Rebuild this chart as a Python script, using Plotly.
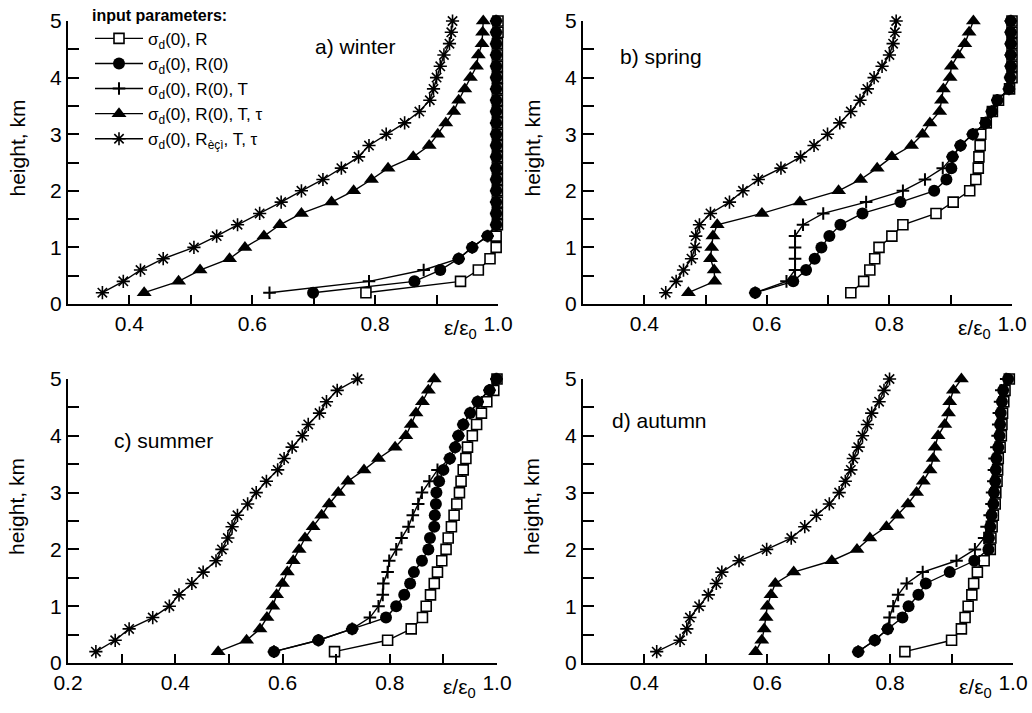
import plotly.graph_objects as go

heights = [0.2, 0.4, 0.6, 0.8, 1.0, 1.2, 1.4, 1.6, 1.8, 2.0, 2.2, 2.4, 2.6,
           2.8, 3.0, 3.2, 3.4, 3.6, 3.8, 4.0, 4.2, 4.4, 4.6, 4.8, 5.0]

series_names = ["σ<sub>d</sub>(0), R", "σ<sub>d</sub>(0), R(0)", "σ<sub>d</sub>(0), R(0), T",
                "σ<sub>d</sub>(0), R(0), T, τ", "σ<sub>d</sub>(0), R<sub>èçì</sub>, T, τ"]

# a) winter
winter_sq = [0.785, 0.939, 0.968, 0.987, 0.997, 0.997, 0.999, 0.999, 0.999, 0.999, 0.999, 0.999, 0.999,
             0.999, 0.999, 0.999, 0.999, 0.999, 0.999, 0.999, 0.999, 0.999, 0.999, 1.0, 1.0]
winter_ci = [0.699, 0.864, 0.906, 0.936, 0.958, 0.983, 0.997, 0.997, 0.997, 0.997, 0.997, 0.997, 0.997,
             0.997, 0.997, 0.997, 0.997, 0.997, 0.997, 0.997, 0.997, 0.997, 0.997, 0.997, 0.997]
winter_cr = [0.628, 0.790, 0.879, 0.936, 0.958, 0.983, 0.997, 0.997, 0.997, 0.997, 0.997, 0.997, 0.997,
             0.997, 0.997, 0.997, 0.997, 0.997, 0.997, 0.997, 0.997, 0.997, 0.997, 0.997, 0.997]
winter_tr = [0.424, 0.480, 0.515, 0.563, 0.588, 0.619, 0.645, 0.680, 0.729, 0.765, 0.794, 0.821, 0.862,
             0.888, 0.902, 0.915, 0.928, 0.936, 0.946, 0.955, 0.965, 0.968, 0.974, 0.975, 0.976]
winter_as = [0.356, 0.390, 0.418, 0.455, 0.505, 0.542, 0.576, 0.612, 0.647, 0.680, 0.715, 0.745, 0.773,
             0.790, 0.818, 0.848, 0.872, 0.889, 0.895, 0.900, 0.906, 0.912, 0.921, 0.924, 0.926]

# b) spring
spring_sq = [0.737, 0.758, 0.768, 0.776, 0.783, 0.804, 0.822, 0.876, 0.904, 0.931, 0.941, 0.945, 0.946,
             0.948, 0.949, 0.958, 0.968, 0.978, 0.996, 1.0, 1.0, 1.0, 1.0, 1.0, 1.0]
spring_ci = [0.581, 0.643, 0.664, 0.678, 0.689, 0.702, 0.720, 0.756, 0.818, 0.873, 0.893, 0.901, 0.903,
             0.916, 0.936, 0.957, 0.967, 0.976, 0.995, 0.997, 0.998, 0.998, 0.998, 0.998, 0.998]
spring_cr = [0.581, 0.632, 0.646, 0.646, 0.646, 0.646, 0.659, 0.692, 0.762, 0.822, 0.858, 0.887, 0.903,
             0.916, 0.936, 0.957, 0.967, 0.976, 0.995, 0.997, 0.998, 0.998, 0.998, 0.998, 0.998]
spring_tr = [0.472, 0.515, 0.514, 0.508, 0.510, 0.512, 0.519, 0.592, 0.654, 0.717, 0.753, 0.780, 0.804,
             0.836, 0.854, 0.866, 0.882, 0.885, 0.888, 0.899, 0.901, 0.912, 0.923, 0.930, 0.937]
spring_as = [0.435, 0.452, 0.464, 0.477, 0.483, 0.484, 0.490, 0.508, 0.539, 0.561, 0.586, 0.623, 0.655,
             0.677, 0.699, 0.719, 0.737, 0.752, 0.764, 0.775, 0.788, 0.800, 0.806, 0.809, 0.811]

# c) summer
summer_sq = [0.697, 0.796, 0.840, 0.861, 0.868, 0.876, 0.883, 0.889, 0.897, 0.905, 0.909, 0.915, 0.920,
             0.925, 0.930, 0.933, 0.937, 0.942, 0.945, 0.954, 0.962, 0.971, 0.981, 0.994, 1.0]
summer_ci = [0.584, 0.667, 0.730, 0.793, 0.812, 0.827, 0.838, 0.845, 0.860, 0.872, 0.875, 0.883, 0.884,
             0.886, 0.887, 0.892, 0.900, 0.912, 0.922, 0.928, 0.937, 0.950, 0.964, 0.986, 0.999]
summer_cr = [0.584, 0.667, 0.730, 0.763, 0.779, 0.787, 0.788, 0.796, 0.799, 0.812, 0.822, 0.835, 0.843,
             0.853, 0.860, 0.874, 0.889, 0.912, 0.922, 0.928, 0.937, 0.950, 0.964, 0.986, 0.999]
summer_tr = [0.480, 0.533, 0.558, 0.571, 0.582, 0.589, 0.600, 0.609, 0.620, 0.631, 0.642, 0.657, 0.673,
             0.687, 0.704, 0.722, 0.752, 0.779, 0.810, 0.830, 0.840, 0.849, 0.861, 0.872, 0.883]
summer_as = [0.252, 0.288, 0.314, 0.358, 0.389, 0.407, 0.431, 0.452, 0.476, 0.487, 0.498, 0.506, 0.516,
             0.535, 0.551, 0.570, 0.591, 0.603, 0.618, 0.637, 0.648, 0.669, 0.682, 0.702, 0.740]

# d) autumn
autumn_sq = [0.824, 0.900, 0.916, 0.922, 0.927, 0.933, 0.936, 0.942, 0.953, 0.963, 0.964, 0.966, 0.968,
             0.971, 0.972, 0.974, 0.975, 0.976, 0.979, 0.981, 0.982, 0.983, 0.985, 0.987, 0.994]
autumn_ci = [0.748, 0.775, 0.796, 0.820, 0.830, 0.846, 0.858, 0.897, 0.937, 0.960, 0.961, 0.963, 0.965,
             0.968, 0.969, 0.971, 0.972, 0.973, 0.976, 0.978, 0.979, 0.980, 0.982, 0.984, 0.992]
autumn_cr = [0.748, 0.775, 0.796, 0.799, 0.805, 0.813, 0.827, 0.853, 0.908, 0.938, 0.953, 0.957, 0.962,
             0.965, 0.966, 0.968, 0.969, 0.970, 0.973, 0.975, 0.976, 0.977, 0.979, 0.981, 0.989]
autumn_tr = [0.581, 0.591, 0.595, 0.598, 0.600, 0.606, 0.613, 0.643, 0.705, 0.746, 0.767, 0.794, 0.812,
             0.829, 0.843, 0.854, 0.865, 0.870, 0.873, 0.878, 0.889, 0.895, 0.897, 0.903, 0.916]
autumn_as = [0.420, 0.458, 0.469, 0.474, 0.489, 0.504, 0.517, 0.526, 0.554, 0.599, 0.639, 0.661, 0.680,
             0.701, 0.717, 0.727, 0.736, 0.740, 0.748, 0.755, 0.763, 0.770, 0.782, 0.790, 0.799]

panel_labels = ["a) winter", "b) spring", "c) summer", "d) autumn"]
x_ticks_03 = [0.4, 0.5, 0.6, 0.7, 0.8, 0.9, 1.0]
x_text_03 = ["0.4", "", "0.6", "", "0.8", "", "1.0"]
x_ticks_02 = [0.2, 0.3, 0.4, 0.5, 0.6, 0.7, 0.8, 0.9, 1.0]
x_text_02 = ["0.2", "", "0.4", "", "0.6", "", "0.8", "", "1.0"]
y_ticks = [0, 0.5, 1, 1.5, 2, 2.5, 3, 3.5, 4, 4.5, 5]
y_text = ["0", "", "1", "", "2", "", "3", "", "4", "", "5"]

FONT = "Liberation Sans, Arial, sans-serif"
W, H = 1032, 713

panels = [
    dict(data=[winter_sq, winter_ci, winter_cr, winter_tr, winter_as], xr=[0.3, 1.0],
         px=(68, 498), py=(21, 304), lab=(313, 47)),
    dict(data=[spring_sq, spring_ci, spring_cr, spring_tr, spring_as], xr=[0.3, 1.0],
         px=(583, 1012), py=(21, 304), lab=(618, 56)),
    dict(data=[summer_sq, summer_ci, summer_cr, summer_tr, summer_as], xr=[0.2, 1.0],
         px=(68, 497), py=(379, 663), lab=(112, 440)),
    dict(data=[autumn_sq, autumn_ci, autumn_cr, autumn_tr, autumn_as], xr=[0.3, 1.0],
         px=(583, 1013), py=(379, 663), lab=(610, 420)),
]

marker_styles = [
    dict(symbol="square", size=10, color="white", line=dict(color="black", width=1.6)),
    dict(symbol="circle", size=12, color="black", line=dict(width=0)),
    dict(symbol="cross-thin-open", size=9, color="black", line=dict(color="black", width=2)),
    dict(symbol="triangle-up", size=13, color="black", line=dict(width=0)),
    dict(symbol="asterisk-open", size=11, color="black", line=dict(color="black", width=1.6)),
]

fig = go.Figure()
layout = {}
annotations = []
for i, p in enumerate(panels):
    sfx = "" if i == 0 else str(i + 1)
    for k, vals in enumerate(p["data"]):
        fig.add_trace(go.Scatter(
            x=vals, y=heights, mode="lines+markers", name=series_names[k],
            xaxis="x" + sfx, yaxis="y" + sfx, showlegend=(i == 0),
            line=dict(color="black", width=1.4), marker=marker_styles[k],
            cliponaxis=False,
        ))
    x0, x1 = p["px"]
    y0, y1 = p["py"]
    if p["xr"][0] == 0.2:
        tv, tt = x_ticks_02, x_text_02
    else:
        tv, tt = x_ticks_03, x_text_03
    layout["xaxis" + sfx] = dict(
        domain=[x0 / W, x1 / W], range=p["xr"], anchor="y" + sfx, automargin=False,
        showgrid=False, zeroline=False, showline=True, linecolor="black", linewidth=2,
        ticks="inside", ticklen=9, tickwidth=2, tickcolor="black",
        tickmode="array", tickvals=tv, ticktext=tt,
        tickfont=dict(family=FONT, size=21, color="black"),
    )
    layout["yaxis" + sfx] = dict(
        domain=[1 - y1 / H, 1 - y0 / H], range=[0, 5], anchor="x" + sfx, automargin=False,
        showgrid=False, zeroline=False, showline=True, linecolor="black", linewidth=2,
        ticks="inside", ticklen=11, tickwidth=2, tickcolor="black",
        tickmode="array", tickvals=y_ticks, ticktext=y_text,
        tickfont=dict(family=FONT, size=21, color="black"),
    )
    lx, ly = p["lab"]
    annotations.append(dict(text=panel_labels[i], xref="paper", yref="paper",
                            x=lx / W, y=1 - ly / H, xanchor="left", yanchor="middle",
                            showarrow=False, font=dict(family=FONT, size=21, color="black")))
    # y-axis title
    annotations.append(dict(text="height, km", xref="paper", yref="paper",
                            x=(x0 - 51) / W, y=1 - ((y0 + y1) / 2 - 14) / H, textangle=-90,
                            xanchor="center", yanchor="middle", showarrow=False,
                            font=dict(family=FONT, size=21, color="black")))
    # x-axis quantity label next to 1.0
    annotations.append(dict(text="ε/ε<sub>0</sub>", xref="paper", yref="paper",
                            x=(x1 - 19) / W, y=1 - (y1 + 10) / H, xanchor="right", yanchor="top",
                            showarrow=False, font=dict(family=FONT, size=21, color="black")))

fig.update_layout(
    width=W, height=H, margin=dict(l=0, r=0, t=0, b=0, autoexpand=False),
    paper_bgcolor="white", plot_bgcolor="white",
    font=dict(family=FONT, color="black"),
    showlegend=True,
    legend=dict(x=90 / W, y=1.0, xanchor="left", yanchor="top", bgcolor="rgba(0,0,0,0)",
                title=dict(text="<b>input parameters:</b>", font=dict(family=FONT, size=16)),
                font=dict(family=FONT, size=17, color="black"), tracegroupgap=0,
                itemwidth=48),
    annotations=annotations,
    **layout,
)

fig.write_html("out.html", config={"displayModeBar": False},
               post_script="document.body.style.margin='0';document.body.style.overflow='hidden';")
